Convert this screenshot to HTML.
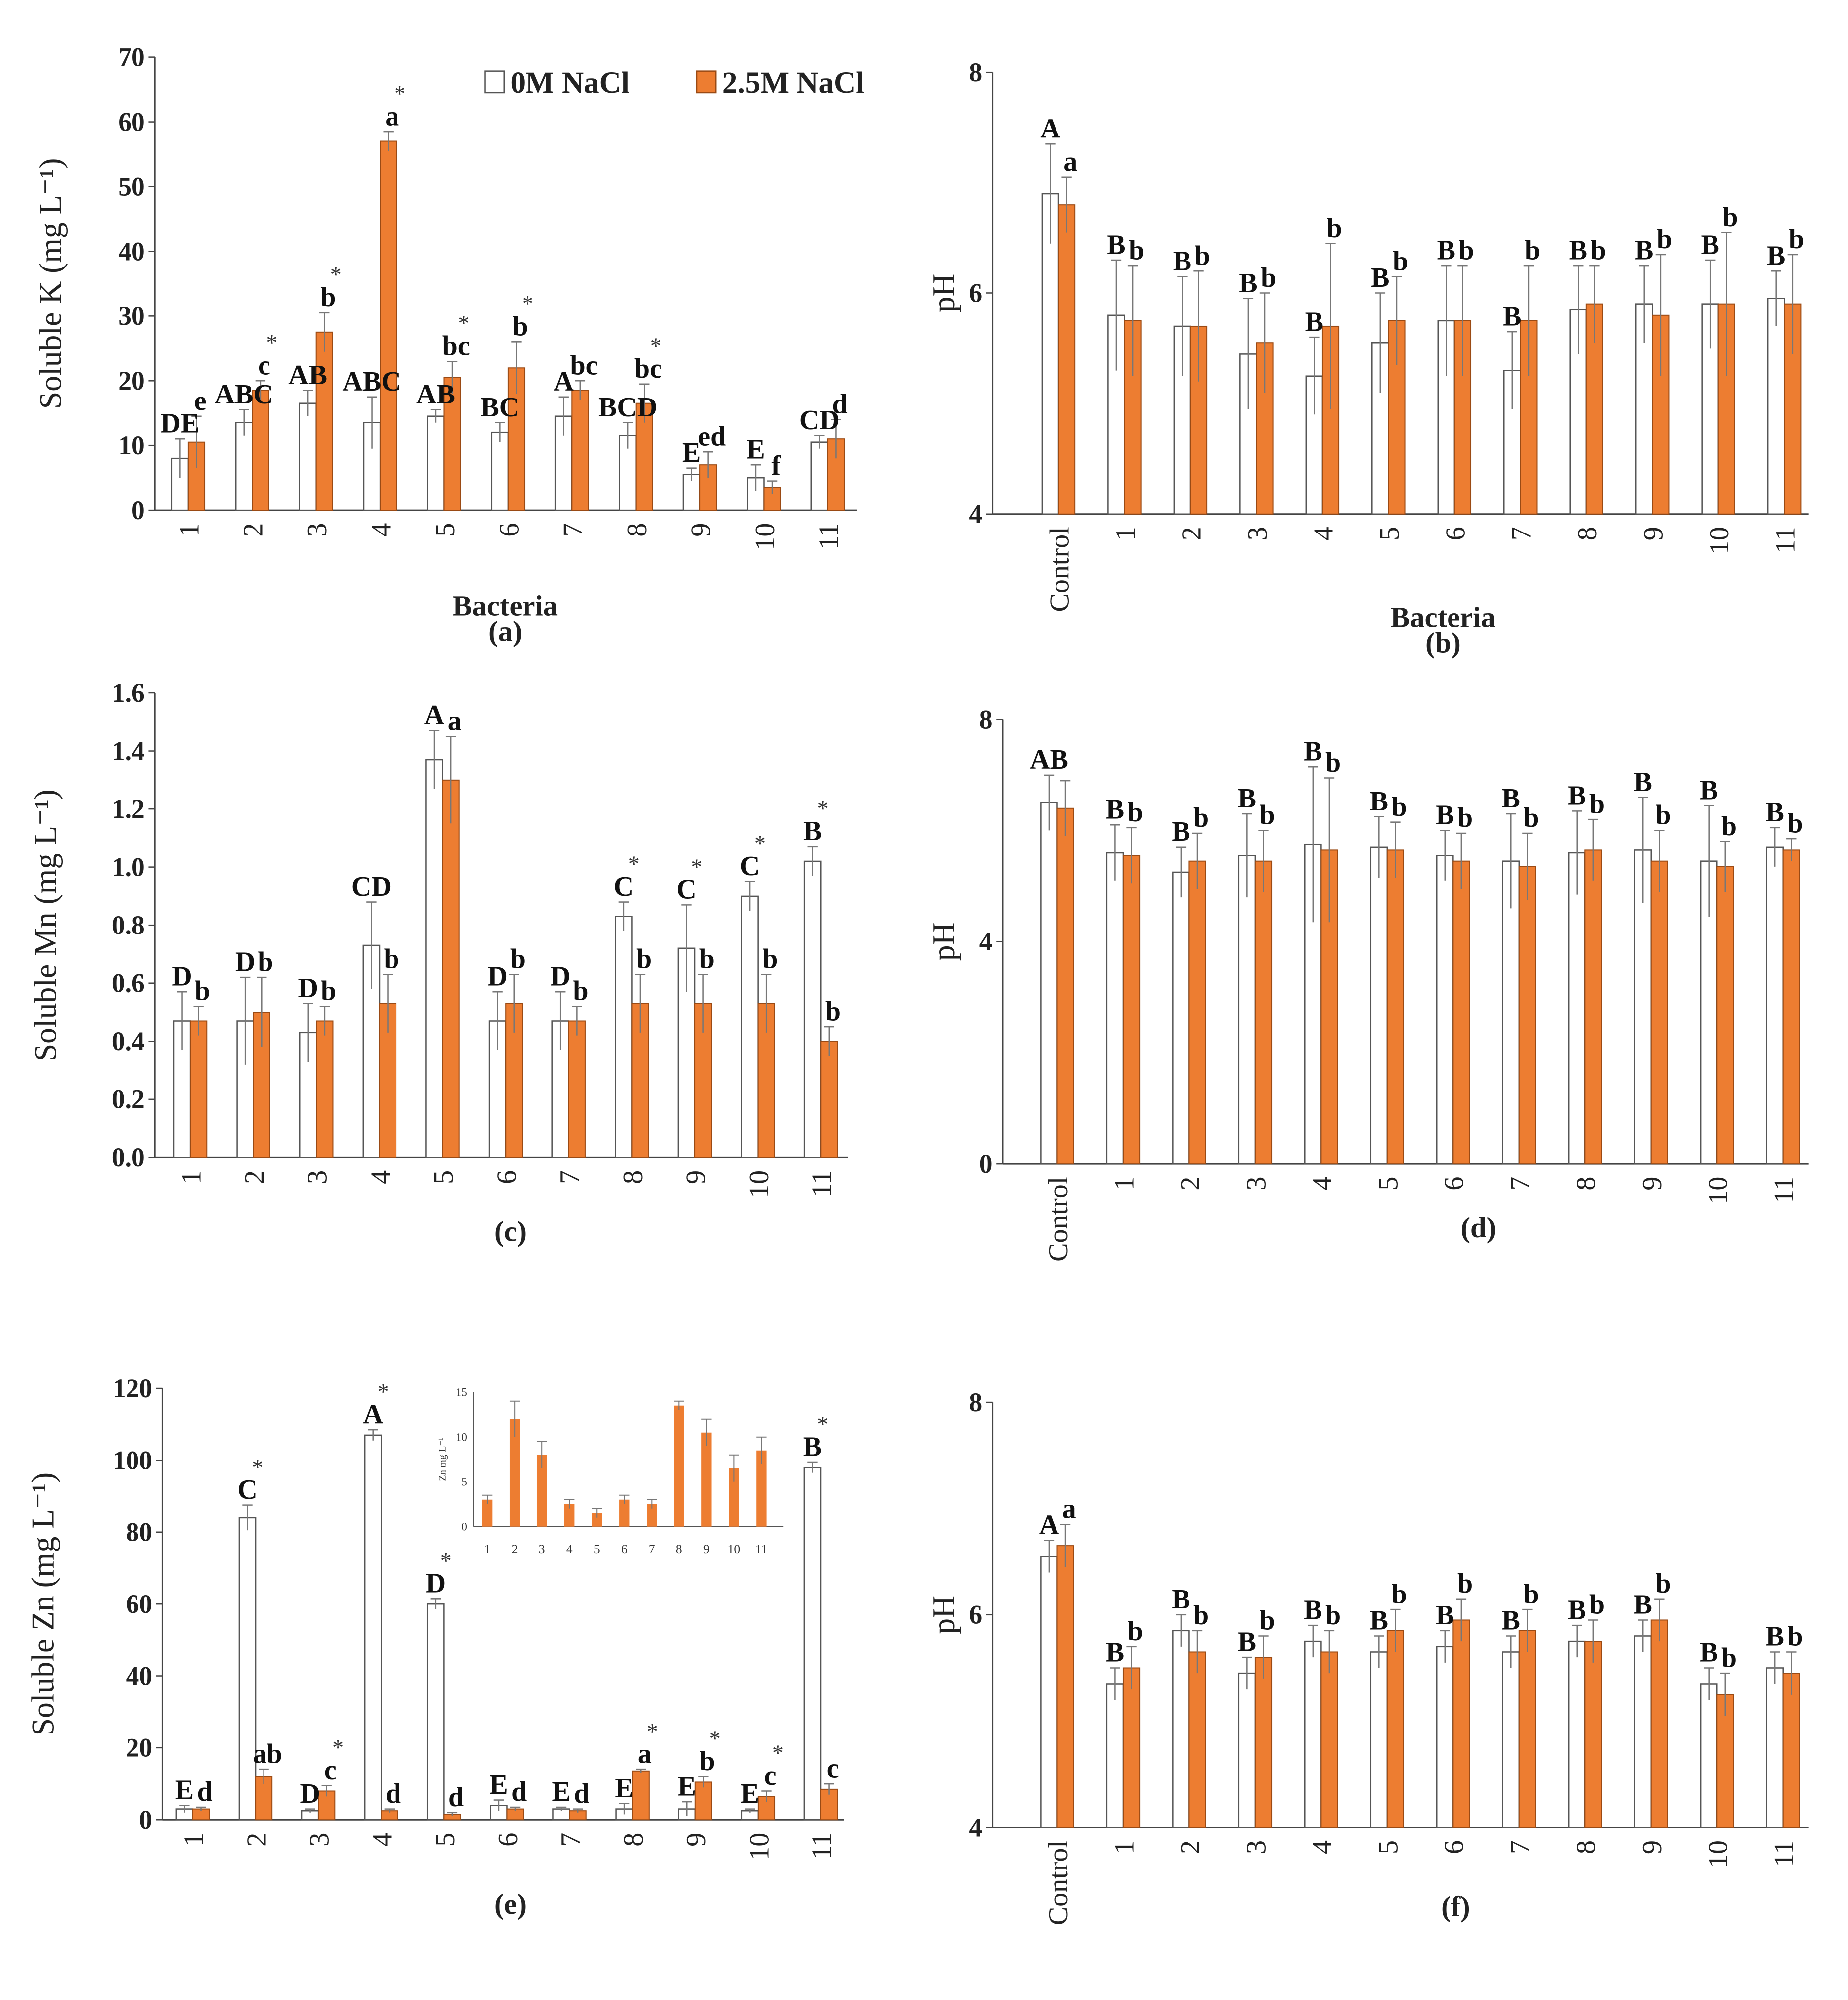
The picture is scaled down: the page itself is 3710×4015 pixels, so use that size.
<!DOCTYPE html>
<html><head><meta charset="utf-8"><style>
html,body{margin:0;padding:0;background:#fff}
svg{display:block}
text{font-family:"Liberation Serif",serif}
</style></head><body>
<svg id="chart" xmlns="http://www.w3.org/2000/svg" width="3710" height="4015" viewBox="0 0 1456 1576">
<g id="root"></g>
</svg>
<script>
// ---- Panel (a) data ----
const aCats = ["1","2","3","4","5","6","7","8","9","10","11"];
const aV0 = [8,13.5,16.5,13.5,14.5,12,14.5,11.5,5.5,5,10.5];
const aE0 = [3,2,2,4,1,1.5,3,2,1,2,1];
const aV1 = [10.5,18.5,27.5,57,20.5,22,18.5,16.5,7,3.5,11];
const aE1 = [4,1.5,3,1.5,2.5,4,1.5,3,2,1,3];
const aL0 = ["DE","ABC","AB","ABC","AB","BC","A","BCD","E","E","CD"];
const aL1 = ["e","c","b","a","bc","b","bc","bc","ed","f","d"];
const aS1 = [0,1,1,1,1,1,0,1,0,0,0];
const aTicks = [0,10,20,30,40,50,60,70];
// ---- Panel (b) data ----
const bCats = ["Control","1","2","3","4","5","6","7","8","9","10","11"];
const bV0 = [6.9,5.8,5.7,5.45,5.25,5.55,5.75,5.3,5.85,5.9,5.9,5.95];
const bE0 = [0.45,0.5,0.45,0.5,0.35,0.45,0.5,0.35,0.4,0.35,0.4,0.25];
const bV1 = [6.8,5.75,5.7,5.55,5.7,5.75,5.75,5.75,5.9,5.8,5.9,5.9];
const bE1 = [0.25,0.5,0.5,0.45,0.75,0.4,0.5,0.5,0.35,0.55,0.65,0.45];
const bL0 = ["A","B","B","B","B","B","B","B","B","B","B","B"];
const bL1 = ["a","b","b","b","b","b","b","b","b","b","b","b"];
const bTicks = [4,6,8];
// ---- Panel (c) data ----
const cCats = aCats;
const cV0 = [0.47,0.47,0.43,0.73,1.37,0.47,0.47,0.83,0.72,0.90,1.02];
const cE0 = [0.1,0.15,0.1,0.15,0.1,0.1,0.1,0.05,0.15,0.05,0.05];
const cV1 = [0.47,0.50,0.47,0.53,1.30,0.53,0.47,0.53,0.53,0.53,0.40];
const cE1 = [0.05,0.12,0.05,0.1,0.15,0.1,0.05,0.1,0.1,0.1,0.05];
const cL0 = ["D","D","D","CD","A","D","D","C","C","C","B"];
const cL1 = ["b","b","b","b","a","b","b","b","b","b","b"];
const cS0 = [0,0,0,0,0,0,0,1,1,1,1];
const cTicks = [0,0.2,0.4,0.6,0.8,1.0,1.2,1.4,1.6];
// ---- Panel (d) data ----
const dCats = bCats;
const dV0 = [6.5,5.6,5.25,5.55,5.75,5.7,5.55,5.45,5.6,5.65,5.45,5.7];
const dE0 = [0.5,0.5,0.45,0.75,1.4,0.55,0.45,0.85,0.75,0.95,1.0,0.35];
const dV1 = [6.4,5.55,5.45,5.45,5.65,5.65,5.45,5.35,5.65,5.45,5.35,5.65];
const dE1 = [0.5,0.5,0.5,0.55,1.3,0.5,0.5,0.6,0.55,0.55,0.45,0.2];
const dL0 = ["AB","B","B","B","B","B","B","B","B","B","B","B"];
const dL1 = ["","b","b","b","b","b","b","b","b","b","b","b"];
const dTicks = [0,4,8];
// ---- Panel (e) data ----
const eCats = aCats;
const eV0 = [3,84,2.5,107,60,4,3,3,3,2.5,98];
const eE0 = [1,3.5,0.5,1.5,1.5,1.5,0.5,1.5,2,0.5,1.5];
const eV1 = [3,12,8,2.5,1.5,3,2.5,13.5,10.5,6.5,8.5];
const eE1 = [0.5,2,1.5,0.5,0.5,0.5,0.5,0.5,1.5,1.5,1.5];
const eL0 = ["E","C","D","A","D","E","E","E","E","E","B"];
const eL1 = ["d","ab","c","d","d","d","d","a","b","c","c"];
const eS0 = [0,1,0,1,1,0,0,0,0,0,1];
const eS1 = [0,0,1,0,0,0,0,1,1,1,0];
const eTicks = [0,20,40,60,80,100,120];
const insetTicks = [0,5,10,15];
// ---- Panel (f) data ----
const fCats = bCats;
const fV0 = [6.55,5.35,5.85,5.45,5.75,5.65,5.7,5.65,5.75,5.8,5.35,5.5];
const fE0 = [0.15,0.15,0.15,0.15,0.15,0.15,0.15,0.15,0.15,0.15,0.15,0.15];
const fV1 = [6.65,5.5,5.65,5.6,5.65,5.85,5.95,5.85,5.75,5.95,5.25,5.45];
const fE1 = [0.2,0.2,0.2,0.2,0.2,0.2,0.2,0.2,0.2,0.2,0.2,0.2];
const fL0 = ["A","B","B","B","B","B","B","B","B","B","B","B"];
const fL1 = ["a","b","b","b","b","b","b","b","b","b","b","b"];
const fTicks = [4,6,8];

const NS="http://www.w3.org/2000/svg";
const root=document.getElementById('root');
function mk(tag,attrs,parent,txt){const e=document.createElementNS(NS,tag);for(const k in attrs)e.setAttribute(k,attrs[k]);if(txt!==undefined)e.textContent=txt;(parent||root).appendChild(e);return e;}
const OR="#ED7D31";

function panel(p){
  const g=mk('g',{});
  
  
  const y=v=>p.y0-(v-p.vmin)/(p.vmax-p.vmin)*(p.y0-p.ytop);
  const x=i=>p.x0+p.step*(i+0.5)+p.shift;
  const ax=mk('line',{x1:p.x0,y1:p.ytop,x2:p.x0,y2:p.y0,stroke:'#444','stroke-width':1.2},g);
  
  
  const bx=mk('line',{x1:p.x0,y1:p.y0,x2:p.x1,y2:p.y0,stroke:'#444','stroke-width':1.2},g);
  
  
  p.ticks.forEach(t=>{
    mk('line',{x1:p.x0-5,y1:y(t),x2:p.x0,y2:y(t),stroke:'#444','stroke-width':1},g);
    const tl=mk('text',{x:p.x0-8,y:y(t)+7,'text-anchor':'end','font-size':21,'font-weight':'bold',fill:'#222'},g,p.fmt?p.fmt(t):String(t));
    
    
  });
  const bw=p.bw;
  p.cats.forEach((c,i)=>{
    const cx=x(i);
    const xa=cx-bw, xb=cx;
    const r0=mk('rect',{x:xa,y:y(p.v0[i]),width:bw,height:p.y0-y(p.v0[i]),fill:'#fff',stroke:'#555','stroke-width':1},g);
    
    
    const r1=mk('rect',{x:xb,y:y(p.v1[i]),width:bw,height:p.y0-y(p.v1[i]),fill:OR,stroke:'#9a4a14','stroke-width':0.8},g);
    
    
    [[xa+bw/2,p.v0[i],p.e0[i]],[xb+bw/2,p.v1[i],p.e1[i]]].forEach(([ex,v,e])=>{
      mk('line',{x1:ex,y1:y(v-e),x2:ex,y2:y(v+e),stroke:'#777','stroke-width':1},g);
      mk('line',{x1:ex-4,y1:y(v+e),x2:ex+4,y2:y(v+e),stroke:'#777','stroke-width':1},g);
    });
    const t0=mk('text',{x:xa+bw/2,y:y(p.v0[i]+p.e0[i])-5,'text-anchor':'middle','font-size':22,'font-weight':'bold',fill:'#111'},g,p.l0[i]);
    
    
    const t1=mk('text',{x:xb+bw/2+3,y:y(p.v1[i]+p.e1[i])-5,'text-anchor':'middle','font-size':22,'font-weight':'bold',fill:'#111'},g,p.l1[i]);
    
    
    if(p.s0&&p.s0[i]){const s=mk('text',{x:xa+bw/2+8,y:y(p.v0[i]+p.e0[i])-24,'text-anchor':'middle','font-size':18,fill:'#333'},g,'*');}
    if(p.s1&&p.s1[i]){const s=mk('text',{x:xb+bw/2+9,y:y(p.v1[i]+p.e1[i])-24,'text-anchor':'middle','font-size':18,fill:'#333'},g,'*');}
    const cl=mk('text',{transform:`translate(${cx+8},${p.y0+10}) rotate(-90)`,'text-anchor':'end','font-size':22,fill:'#222'},g,c);
    
    
  });
  const yt=mk('text',{transform:`translate(${p.ytx},${(p.y0+p.ytop)/2}) rotate(-90)`,'text-anchor':'middle','font-size':25,fill:'#222'},g,p.ytitle);
  
  
  if(p.xtitle){const xt=mk('text',{x:p.xtx,y:p.xty,'text-anchor':'middle','font-size':23,'font-weight':'bold',fill:'#222'},g,p.xtitle);}
  const pl=mk('text',{x:p.xtx,y:p.ply,'text-anchor':'middle','font-size':23,'font-weight':'bold',fill:'#222'},g,p.plabel);
  
  
  return g;
}
const fmt1=t=>t.toFixed(1);
panel({name:'panel-a',cats:aCats,v0:aV0,e0:aE0,v1:aV1,e1:aE1,l0:aL0,l1:aL1,s1:aS1,ticks:aTicks,vmin:0,vmax:70,x0:122,x1:675,y0:402,ytop:45,step:50.4,shift:1,bw:13,ytitle:'Soluble K (mg L\u207B\u00B9)',ytx:48,xtitle:'Bacteria',xtx:398,xty:485,plabel:'(a)',ply:505});
panel({name:'panel-b',cats:bCats,v0:bV0,e0:bE0,v1:bV1,e1:bE1,l0:bL0,l1:bL1,ticks:bTicks,vmin:4,vmax:8,x0:782,x1:1425,y0:405,ytop:57,step:52,shift:26,bw:13,ytitle:'pH',ytx:752,xtitle:'Bacteria',xtx:1137,xty:494,plabel:'(b)',ply:514});
panel({name:'panel-c',cats:cCats,v0:cV0,e0:cE0,v1:cV1,e1:cE1,l0:cL0,l1:cL1,s0:cS0,ticks:cTicks,vmin:0,vmax:1.6,fmt:fmt1,x0:122,x1:668,y0:912,ytop:546,step:49.7,shift:3,bw:13,ytitle:'Soluble Mn (mg L\u207B\u00B9)',ytx:44,xtx:402,plabel:'(c)',ply:978});
panel({name:'panel-d',cats:dCats,v0:dV0,e0:dE0,v1:dV1,e1:dE1,l0:dL0,l1:dL1,ticks:dTicks,vmin:0,vmax:8,x0:790,x1:1425,y0:917,ytop:567,step:52,shift:17,bw:13,ytitle:'pH',ytx:752,xtx:1165,plabel:'(d)',ply:975});
panel({name:'panel-e',cats:eCats,v0:eV0,e0:eE0,v1:eV1,e1:eE1,l0:eL0,l1:eL1,s0:eS0,s1:eS1,ticks:eTicks,vmin:0,vmax:120,x0:128,x1:665,y0:1434,ytop:1094,step:49.5,shift:-1,bw:13,ytitle:'Soluble Zn (mg L\u207B\u00B9)',ytx:42,xtx:402,plabel:'(e)',ply:1508});
panel({name:'panel-f',cats:fCats,v0:fV0,e0:fE0,v1:fV1,e1:fE1,l0:fL0,l1:fL1,ticks:fTicks,vmin:4,vmax:8,x0:782,x1:1425,y0:1440,ytop:1105,step:52,shift:25,bw:13,ytitle:'pH',ytx:752,xtx:1147,plabel:'(f)',ply:1510});

(function(){
  const g=mk('g',{});
  
  
  const x0=373,x1=617,y0=1203,yt=1097,step=21.6;
  const y=v=>y0-v/15*(y0-yt);
  mk('line',{x1:x0,y1:yt,x2:x0,y2:y0,stroke:'#555','stroke-width':0.8},g);
  mk('line',{x1:x0,y1:y0,x2:x1,y2:y0,stroke:'#555','stroke-width':0.8},g);
  insetTicks.forEach(t=>{mk('text',{x:x0-5,y:y(t)+3,'text-anchor':'end','font-size':9,fill:'#333'},g,String(t));});
  eCats.forEach((c,i)=>{
    const cx=x0+step*(i+0.5);
    const r=mk('rect',{x:cx-4,y:y(eV1[i]),width:8,height:y0-y(eV1[i]),fill:OR},g);
    
    
    mk('line',{x1:cx,y1:y(eV1[i]-eE1[i]),x2:cx,y2:y(eV1[i]+eE1[i]),stroke:'#777','stroke-width':0.8},g);
    mk('line',{x1:cx-4,y1:y(eV1[i]+eE1[i]),x2:cx+4,y2:y(eV1[i]+eE1[i]),stroke:'#777','stroke-width':0.8},g);
    mk('text',{x:cx,y:y0+21,'text-anchor':'middle','font-size':10,fill:'#333'},g,c);
  });
  mk('text',{transform:`translate(${x0-22},${(y0+yt)/2}) rotate(-90)`,'text-anchor':'middle','font-size':8,fill:'#333'},g,'Zn mg L\u207B\u00B9');
})();

(function(){
  const g=mk('g',{});
  
  
  const r0=mk('rect',{x:382,y:56,width:15,height:17,fill:'#fff',stroke:'#555'},g);
  
  
  mk('text',{x:402,y:73,'font-size':24,'font-weight':'bold',fill:'#222'},g,'0M NaCl');
  const r1=mk('rect',{x:549,y:56,width:15,height:17,fill:OR,stroke:'#9a4a14'},g);
  
  
  mk('text',{x:569,y:73,'font-size':24,'font-weight':'bold',fill:'#222'},g,'2.5M NaCl');
})();
</script>
</body></html>
